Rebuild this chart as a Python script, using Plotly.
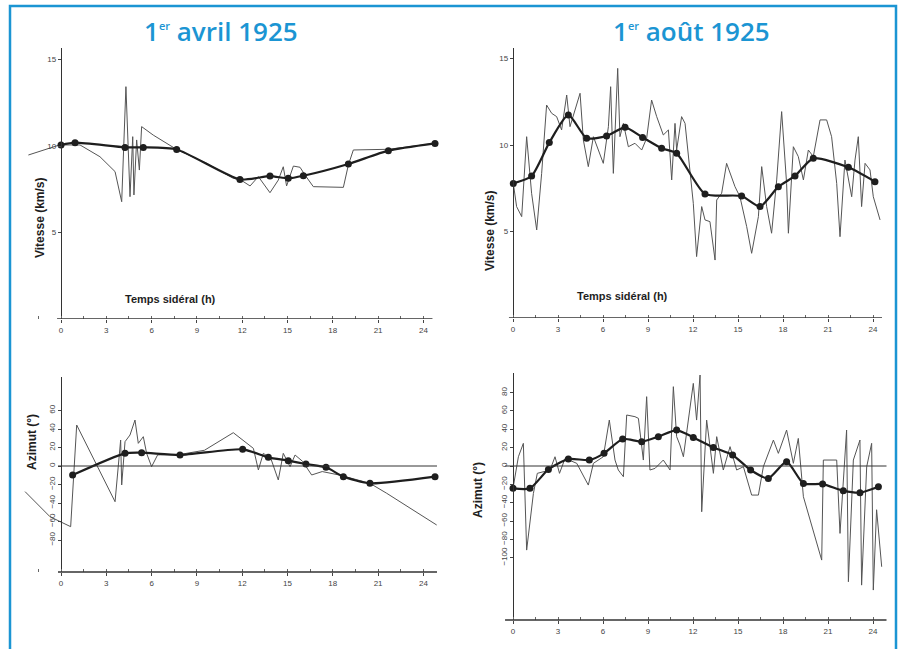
import plotly.graph_objects as go

W, H = 901, 649

# ---------------- data (hours of sidereal time, values) ----------------
tl_raw_h = [-2.16, -0.1, 1.26, 2.58, 3.58, 4.02, 4.30, 4.57, 4.75, 4.83, 5.01, 5.19, 5.34, 5.67, 6.11,
            7.66, 9.65, 11.41, 11.85, 12.52, 13.07, 13.84, 14.39, 14.72, 14.94, 15.39, 15.83, 16.16,
            16.71, 18.70, 19.03, 19.36, 21.68, 24.77]
tl_raw_v = [9.48, 10.06, 10.06, 9.38, 8.52, 6.78, 13.43, 7.07, 10.54, 7.17, 10.35, 8.61, 11.12, 10.92, 10.63,
            9.80, 9.00, 8.13, 8.07, 7.69, 8.23, 7.30, 8.03, 8.80, 7.69, 8.84, 8.77, 8.32,
            7.65, 7.61, 8.90, 9.77, 9.81, 10.15]
tl_sm_h = [0.0, 0.93, 4.24, 5.45, 7.66, 11.85, 13.84, 15.05, 16.05, 19.03, 21.68, 24.77]
tl_sm_v = [10.06, 10.19, 9.92, 9.92, 9.80, 8.07, 8.26, 8.13, 8.28, 8.96, 9.73, 10.15]

tr_raw_h = [0.02, 0.24, 0.58, 0.91, 1.24, 1.58, 1.91, 2.24, 2.58, 2.91, 3.24, 3.58, 3.80, 4.13, 4.47,
            4.69, 5.02, 5.36, 5.69, 6.02, 6.36, 6.51, 6.69, 6.98, 7.13, 7.36, 7.69, 8.13, 8.58, 8.91,
            9.24, 9.58, 10.02, 10.36, 10.58, 10.80, 10.91, 11.24, 11.47, 11.69, 12.02, 12.24, 12.58,
            12.80, 13.13, 13.47, 13.58, 13.91, 14.24, 14.80, 15.13, 15.58, 15.91, 16.36, 16.58, 16.91,
            17.24, 17.58, 17.91, 18.24, 18.36, 18.69, 19.02, 19.36, 19.69, 20.02, 20.47, 20.91, 21.24,
            21.58, 21.80, 22.13, 22.58, 22.80, 23.02, 23.24, 23.47, 23.80, 24.02, 24.47]
tr_raw_v = [7.78, 6.44, 5.86, 10.48, 7.21, 5.09, 8.36, 12.31, 11.83, 11.64, 10.87, 12.89, 11.06, 12.02, 12.99,
            10.29, 8.75, 10.48, 9.71, 8.94, 11.06, 13.37, 8.36, 14.43, 10.48, 11.25, 9.90, 10.10, 9.71, 10.39,
            12.60, 11.64, 10.58, 10.87, 7.98, 11.25, 9.71, 11.64, 11.25, 9.42, 6.63, 3.55, 6.44,
            5.67, 5.57, 3.35, 6.82, 7.21, 8.94, 7.59, 7.01, 5.28, 3.74, 5.86, 8.75, 6.44,
            4.90, 7.98, 11.93, 7.78, 4.90, 9.90, 9.33, 7.98, 9.71, 9.33, 11.45, 11.45, 10.48,
            7.78, 4.70, 9.13, 7.01, 9.13, 10.48, 6.44, 8.94, 8.56, 7.01, 5.67]
tr_sm_h = [0.02, 1.24, 2.42, 3.69, 4.91, 6.24, 7.47, 8.64, 9.91, 10.91, 12.80, 15.24, 16.47, 17.69,
           18.80, 20.02, 22.36, 24.13]
tr_sm_v = [7.78, 8.21, 10.14, 11.74, 10.39, 10.52, 11.02, 10.44, 9.81, 9.52, 7.17, 7.05, 6.44, 7.59,
           8.21, 9.23, 8.71, 7.88]

bl_raw_h = [-2.38, -0.73, 0.64, 1.04, 3.58, 3.95, 4.02, 4.24, 4.57, 4.90, 5.12, 5.45, 5.67, 6.00, 6.40,
            7.88, 9.50, 11.41, 12.74, 13.07, 13.40, 13.90, 14.39, 14.72, 15.17, 15.50, 16.00, 16.60,
            17.30, 18.50, 20.46, 21.57, 24.88]
bl_raw_v = [-27.7, -54.8, -65.6, 44.3, -38.6, 28.1, -20.5, 26.3, 33.5, 49.7, 24.5, 31.7, 13.7, -0.7, 12.0,
            12.5, 17.0, 36.0, 19.1, -4.3, 13.7, 8.0, -15.1, 13.7, -0.7, 11.9, 5.0, -9.7,
            -6.0, -10.0, -18.7, -29.5, -63.8]
bl_sm_h = [0.77, 4.24, 5.34, 7.88, 12.03, 13.73, 15.05, 16.22, 17.55, 18.70, 20.46, 24.77]
bl_sm_v = [-9.7, 13.7, 14.4, 11.9, 18.0, 9.4, 5.8, 2.2, -1.4, -11.5, -18.7, -11.5]

br_raw_h = [0.0, 0.36, 0.69, 0.91, 1.36, 1.62, 2.47, 2.80, 3.10, 3.47, 4.25, 5.02, 5.36, 6.02, 6.42,
            6.80, 7.02, 7.36, 7.58, 8.13, 8.36, 8.69, 8.91, 9.13, 9.47, 10.02, 10.47, 10.69, 10.91,
            11.13, 11.36, 12.02, 12.24, 12.47, 12.58, 12.91, 13.36, 13.58, 14.02, 14.47, 14.91, 15.36,
            15.91, 16.36, 16.69, 17.36, 17.69, 18.24, 18.69, 19.02, 19.36, 20.58, 20.69, 21.13, 21.58,
            21.80, 22.24, 22.36, 22.69, 23.13, 23.24, 23.58, 23.91, 24.02, 24.24, 24.58]
br_raw_v = [-24.4, 10.1, 24.7, -91.7, -29.9, -8.0, -4.4, 10.1, -8.0, 8.3, 2.9, -20.8, 2.9, 10.1, 50.1,
            6.5, -4.4, -11.7, 55.6, 53.8, 52.0, 6.5, 75.6, -4.4, -2.6, 6.5, -4.4, 86.5, 32.0,
            22.9, 10.1, 90.1, 50.1, 99.2, -49.9, 50.1, -8.0, 32.0, -4.4, 21.1, -4.4, -0.8,
            -31.7, -31.7, -0.8, 28.3, 13.8, 39.2, 2.9, 30.1, -33.5, -102.6, 6.5, 6.5, 6.5,
            -73.5, 39.2, -126.2, 6.5, 28.3, -129.9, -0.8, 24.7, -135.3, -47.7, -109.9]
br_sm_h = [0.0, 1.13, 2.36, 3.69, 5.09, 6.07, 7.31, 8.58, 9.69, 10.91, 12.02, 13.36, 14.64, 15.84,
           17.02, 18.24, 19.36, 20.64, 22.02, 23.13, 24.36]
br_sm_v = [-24.4, -24.4, -3.7, 7.6, 6.5, 13.8, 29.4, 26.5, 32.0, 39.2, 31.2, 20.3, 12.0, -4.4,
           -13.5, 4.7, -19.0, -19.7, -26.9, -29.1, -22.6]

x_ticks = [0, 3, 6, 9, 12, 15, 18, 21, 24]
top_y_ticks = [5, 10, 15]
bl_y_ticks = [-80, -60, -40, -20, 0, 20, 40, 60]
br_y_ticks = [-100, -80, -60, -40, -20, 0, 20, 40, 60, 80]

titles = ["1<sup><span style='font-size:11px'>er</span></sup> avril 1925",
          "1<sup><span style='font-size:11px'>er</span></sup> août 1925"]
x_label = "Temps sidéral (h)"
v_label = "Vitesse (km/s)"
a_label = "Azimut (°)"

# ---------------- layout helpers ----------------
BLUE = "#1b95d3"
INK = "#1e1e1e"
RAW = "#555555"


def px_x(a, b):
    return [a / W, b / W]


def px_y(top, bottom):
    return [1 - bottom / H, 1 - top / H]


fig = go.Figure()

panels = [
    (tl_raw_h, tl_raw_v, tl_sm_h, tl_sm_v, "x", "y"),
    (tr_raw_h, tr_raw_v, tr_sm_h, tr_sm_v, "x2", "y2"),
    (bl_raw_h, bl_raw_v, bl_sm_h, bl_sm_v, "x3", "y3"),
    (br_raw_h, br_raw_v, br_sm_h, br_sm_v, "x4", "y4"),
]
for rh, rv, sh, sv, xa, ya in panels:
    fig.add_trace(go.Scatter(x=rh, y=rv, mode="lines", xaxis=xa, yaxis=ya,
                             line=dict(color=RAW, width=1), hoverinfo="skip", showlegend=False))
    fig.add_trace(go.Scatter(x=sh, y=sv, mode="lines+markers", xaxis=xa, yaxis=ya,
                             line=dict(color=INK, width=2.2, shape="spline", smoothing=0.6),
                             marker=dict(color=INK, size=7), hoverinfo="skip", showlegend=False))

tickfont = dict(family="Liberation Sans", size=8, color="#444")


def xaxis_cfg(dom_px, x0px, ppu, anchor):
    a, b = dom_px
    return dict(domain=px_x(a, b), range=[(a - x0px) / ppu, (b - x0px) / ppu], anchor=anchor,
                showgrid=False, zeroline=False, showline=False,
                tickvals=x_ticks, ticks="outside", ticklen=3, tickcolor="#444", tickwidth=1,
                minor=dict(dtick=1.5, tick0=0, ticks="inside", ticklen=3, tickcolor="#666"),
                tickfont=tickfont, fixedrange=True)


def yaxis_cfg(top, bottom, zero_px, ppu, pos_px, tickvals, angle=0):
    return dict(domain=px_y(top, bottom), range=[(zero_px - bottom) / ppu, (zero_px - top) / ppu],
                anchor="free", position=pos_px / W,
                showgrid=False, zeroline=False, showline=True, linecolor="#333", linewidth=1.3,
                tickvals=tickvals, ticks="outside", ticklen=3, tickcolor="#444",
                tickfont=tickfont, tickangle=angle, fixedrange=True)


fig.update_layout(
    width=W, height=H, autosize=False,
    margin=dict(l=0, r=0, t=0, b=0),
    paper_bgcolor="white", plot_bgcolor="rgba(0,0,0,0)",
    xaxis=xaxis_cfg((22, 442), 61, 15.1, "y"),
    yaxis=yaxis_cfg(48, 319, 319, 17.3, 61, top_y_ticks),
    xaxis2=xaxis_cfg((505, 886), 513, 15.0, "y2"),
    yaxis2=yaxis_cfg(48, 318, 318, 17.3, 513, top_y_ticks),
    xaxis3=xaxis_cfg((22, 442), 61, 15.1, "y3"),
    yaxis3=yaxis_cfg(377, 572, 466, 0.925, 61, bl_y_ticks, angle=-90),
    xaxis4=xaxis_cfg((505, 890), 513, 15.0, "y4"),
    yaxis4=yaxis_cfg(373, 620, 466, 0.917, 513, br_y_ticks, angle=-90),
)

line_style = dict(color="#333", width=1.3)
shapes = [
    dict(type="line", xref="x", yref="y", x0=-0.26, x1=24.6, y0=0, y1=0, line=line_style),
    dict(type="line", xref="x2", yref="y2", x0=-0.27, x1=24.6, y0=0, y1=0, line=line_style),
    dict(type="line", xref="x3", yref="y3 domain", x0=-0.2, x1=24.9, y0=0, y1=0, line=line_style),
    dict(type="line", xref="x3", yref="y3", x0=-0.2, x1=24.9, y0=0, y1=0, line=dict(color="#333", width=1)),
    dict(type="line", xref="x4", yref="y4 domain", x0=-0.53, x1=24.9, y0=0, y1=0, line=line_style),
    dict(type="line", xref="x4", yref="y4", x0=-0.53, x1=24.9, y0=0, y1=0, line=dict(color="#333", width=1)),
    dict(type="rect", xref="paper", yref="paper", x0=10 / W, x1=896 / W, y0=-0.05, y1=1 - 6 / H,
         line=dict(color=BLUE, width=2.5), fillcolor="rgba(0,0,0,0)", layer="above"),
]
fig.update_layout(shapes=shapes)


def ann(text, xpx, ypx, size, color=INK, angle=0, family="Liberation Sans", weight="bold"):
    return dict(text=text, x=xpx / W, y=1 - ypx / H, xref="paper", yref="paper",
                showarrow=False, textangle=angle, xanchor="center", yanchor="middle",
                font=dict(family=family, size=size, color=color, weight=weight))


annotations = [
    ann(titles[0], 221, 31, 26, color=BLUE, family="Open Sans", weight=600),
    ann(titles[1], 691, 31, 26, color=BLUE, family="Open Sans", weight=600),
    ann(x_label, 170, 299, 11),
    ann(x_label, 622, 296, 11),
    ann(v_label, 40, 218, 12, angle=-90),
    ann(v_label, 490, 230, 12, angle=-90),
    ann(a_label, 32, 442, 12, angle=-90),
    ann(a_label, 478, 490, 12, angle=-90),
]
fig.update_layout(annotations=annotations)

fig.write_html("out.html", config={"displayModeBar": False},
               post_script="document.body.style.margin='0px';")
